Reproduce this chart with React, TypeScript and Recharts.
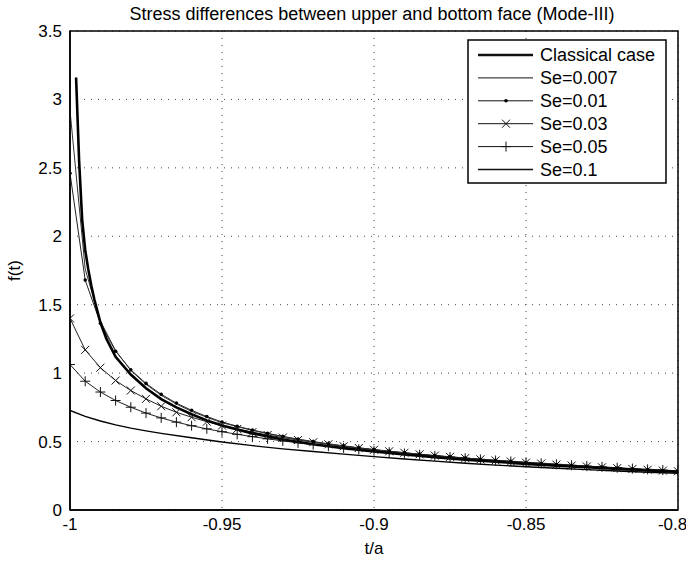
import React from 'react';
import { LineChart, Line, XAxis, YAxis, CartesianGrid, ReferenceArea, Label } from 'recharts';

// t/a positions of the marked curves (step 0.005)
const tMarked = [
  -1, -0.995, -0.99, -0.985, -0.98, -0.975, -0.97, -0.965, -0.96, -0.955,
  -0.95, -0.945, -0.94, -0.935, -0.93, -0.925, -0.92, -0.915, -0.91, -0.905,
  -0.9, -0.895, -0.89, -0.885, -0.88, -0.875, -0.87, -0.865, -0.86, -0.855,
  -0.85, -0.845, -0.84, -0.835, -0.83, -0.825, -0.82, -0.815, -0.81, -0.805, -0.8,
];

const se001 = [
  2.46, 1.68, 1.365, 1.16, 1.024, 0.925, 0.845, 0.781, 0.728, 0.683,
  0.643, 0.612, 0.585, 0.56, 0.538, 0.518, 0.5, 0.484, 0.469, 0.455,
  0.442, 0.43, 0.419, 0.408, 0.398, 0.389, 0.38, 0.371, 0.363, 0.355,
  0.347, 0.34, 0.333, 0.326, 0.319, 0.313, 0.307, 0.301, 0.295, 0.289, 0.284,
];

const se003 = [
  1.4, 1.17, 1.04, 0.946, 0.873, 0.812, 0.758, 0.714, 0.678, 0.645,
  0.617, 0.592, 0.569, 0.548, 0.529, 0.511, 0.495, 0.48, 0.466, 0.453,
  0.44, 0.429, 0.418, 0.407, 0.397, 0.388, 0.379, 0.37, 0.362, 0.354,
  0.346, 0.339, 0.332, 0.325, 0.318, 0.312, 0.306, 0.3, 0.294, 0.288, 0.283,
];

const se005 = [
  1.063, 0.941, 0.862, 0.8, 0.751, 0.708, 0.673, 0.642, 0.616, 0.593,
  0.572, 0.553, 0.536, 0.52, 0.505, 0.491, 0.478, 0.466, 0.454, 0.443,
  0.433, 0.423, 0.413, 0.404, 0.395, 0.386, 0.378, 0.37, 0.362, 0.355,
  0.348, 0.341, 0.334, 0.327, 0.321, 0.315, 0.309, 0.303, 0.297, 0.292, 0.286,
];

const tSe0007 = [
  -1, -0.995, -0.99, -0.985, -0.98, -0.975, -0.97, -0.965, -0.96, -0.955, -0.95,
  -0.94, -0.93, -0.92, -0.91, -0.9, -0.89, -0.88, -0.87, -0.86, -0.85,
  -0.84, -0.83, -0.82, -0.81, -0.8,
];
const se0007 = [
  2.92, 1.76, 1.38, 1.165, 1.02, 0.918, 0.838, 0.774, 0.721, 0.677, 0.638,
  0.581, 0.535, 0.497, 0.466, 0.439, 0.416, 0.396, 0.378, 0.361, 0.346,
  0.332, 0.318, 0.306, 0.294, 0.283,
];

const tClassical = [
  -0.998, -0.997, -0.996, -0.995, -0.994, -0.993, -0.992, -0.99, -0.988, -0.985,
  -0.98, -0.975, -0.97, -0.965, -0.96, -0.955, -0.95, -0.94, -0.93, -0.92,
  -0.91, -0.9, -0.89, -0.88, -0.87, -0.86, -0.85, -0.84, -0.83, -0.82, -0.81, -0.8,
];
const classical = [
  3.16, 2.55, 2.12, 1.9, 1.76, 1.64, 1.54, 1.37, 1.25, 1.12,
  0.99, 0.89, 0.81, 0.75, 0.7, 0.655, 0.618, 0.56, 0.515, 0.48,
  0.452, 0.427, 0.405, 0.386, 0.368, 0.352, 0.337, 0.324, 0.312, 0.3, 0.289, 0.279,
];

const tSe01 = [
  -1, -0.995, -0.99, -0.985, -0.98, -0.975, -0.97, -0.96, -0.95, -0.94,
  -0.93, -0.92, -0.91, -0.9, -0.89, -0.88, -0.87, -0.86, -0.85, -0.84,
  -0.83, -0.82, -0.81, -0.8,
];
const se01 = [
  0.727, 0.684, 0.65, 0.622, 0.598, 0.578, 0.56, 0.528, 0.497, 0.47,
  0.447, 0.427, 0.408, 0.39, 0.373, 0.357, 0.342, 0.328, 0.316, 0.305,
  0.295, 0.285, 0.276, 0.268,
];

const xTicks = [-1, -0.95, -0.9, -0.85, -0.8];
const yTicks = [0, 0.5, 1, 1.5, 2, 2.5, 3, 3.5];

const toPoints = (ts: number[], fs: number[]) => ts.map((t, i) => ({ t, f: fs[i] }));

const FONT = '"Liberation Sans", Arial, sans-serif';

const DotMark = ({ cx, cy }: { cx: number; cy: number }) => (
  <circle cx={cx} cy={cy} r={1.8} fill="#000" />
);
const CrossMark = ({ cx, cy }: { cx: number; cy: number }) => (
  <path d={`M${cx - 4},${cy - 4}L${cx + 4},${cy + 4}M${cx - 4},${cy + 4}L${cx + 4},${cy - 4}`} stroke="#111" strokeWidth={1} />
);
const PlusMark = ({ cx, cy }: { cx: number; cy: number }) => (
  <path d={`M${cx - 5},${cy}L${cx + 5},${cy}M${cx},${cy - 5}L${cx},${cy + 5}`} stroke="#111" strokeWidth={1} />
);

const markDot = (Mark: any) => (props: any) => {
  if (props.cx == null || props.cy == null) return <g key={props.index} />;
  return <Mark key={props.index} cx={props.cx} cy={props.cy} />;
};

const legendRows = [
  { name: 'Classical case', width: 2.6, mark: null },
  { name: 'Se=0.007', width: 1, mark: null },
  { name: 'Se=0.01', width: 1, mark: DotMark },
  { name: 'Se=0.03', width: 1, mark: CrossMark },
  { name: 'Se=0.05', width: 1, mark: PlusMark },
  { name: 'Se=0.1', width: 1.4, mark: null },
];

const LegendBox = () => (
  <svg width={200} height={145} style={{ position: 'absolute', left: 467, top: 39 }}>
    <rect x={1} y={1} width={198} height={143} fill="#fff" stroke="#000" strokeWidth={1.5} />
    {legendRows.map((r, i) => {
      const y = 16 + i * 22.9;
      const M = r.mark as any;
      return (
        <g key={r.name}>
          <line x1={11} x2={66} y1={y} y2={y} stroke="#111" strokeWidth={r.width} />
          {M && <M cx={39} cy={y} />}
          <text x={73} y={y + 6} fontSize={18} fontFamily={FONT} fill="#000">{r.name}</text>
        </g>
      );
    })}
  </svg>
);

export default function App() {
  return (
    <div style={{ position: 'absolute', left: 0, top: 0, width: 686, height: 562, background: '#fff' }}>
      <LineChart width={686} height={562} margin={{ top: 31, right: 8, bottom: 6, left: 0 }}>
        <CartesianGrid stroke="#444" strokeDasharray="1 6" />
        <XAxis
          type="number"
          dataKey="t"
          domain={[-1, -0.8]}
          ticks={xTicks}
          allowDataOverflow
          height={46}
          tickLine={false}
          axisLine={{ stroke: '#000', strokeWidth: 1.5 }}
          tick={{ fill: '#000', fontSize: 17, fontFamily: FONT }}
        >
          <Label value="t/a" position="insideBottom" offset={2} style={{ fontSize: 17, fontFamily: FONT, fill: '#000' }} />
        </XAxis>
        <YAxis
          type="number"
          domain={[0, 3.5]}
          ticks={yTicks}
          allowDataOverflow
          width={70}
          tickLine={false}
          axisLine={{ stroke: '#000', strokeWidth: 1.5 }}
          tick={{ fill: '#000', fontSize: 17, fontFamily: FONT }}
        >
          <Label value="f(t)" angle={-90} position="insideLeft" offset={14} style={{ textAnchor: 'middle', fontSize: 17, fontFamily: FONT, fill: '#000' }} />
        </YAxis>
        <ReferenceArea x1={-1} x2={-0.8} y1={0} y2={3.5} fill="none" stroke="#000" strokeWidth={1.5} />
        <Line data={toPoints(tSe01, se01)} dataKey="f" stroke="#000" strokeWidth={1.4} dot={false} activeDot={false} isAnimationActive={false} />
        <Line data={toPoints(tMarked, se005)} dataKey="f" stroke="#222" strokeWidth={1} dot={markDot(PlusMark)} activeDot={false} isAnimationActive={false} />
        <Line data={toPoints(tMarked, se003)} dataKey="f" stroke="#222" strokeWidth={1} dot={markDot(CrossMark)} activeDot={false} isAnimationActive={false} />
        <Line data={toPoints(tMarked, se001)} dataKey="f" stroke="#222" strokeWidth={1} dot={markDot(DotMark)} activeDot={false} isAnimationActive={false} />
        <Line data={toPoints(tSe0007, se0007)} dataKey="f" stroke="#333" strokeWidth={1} dot={false} activeDot={false} isAnimationActive={false} />
        <Line data={toPoints(tClassical, classical)} dataKey="f" stroke="#000" strokeWidth={2.6} dot={false} activeDot={false} isAnimationActive={false} />
      </LineChart>
      <svg width={686} height={30} style={{ position: 'absolute', left: 0, top: 0 }}>
        <text x={372} y={20} textAnchor="middle" fontSize={18} fontFamily={FONT} fill="#000">
          Stress differences between upper and bottom face (Mode-III)
        </text>
      </svg>
      <LegendBox />
    </div>
  );
}
